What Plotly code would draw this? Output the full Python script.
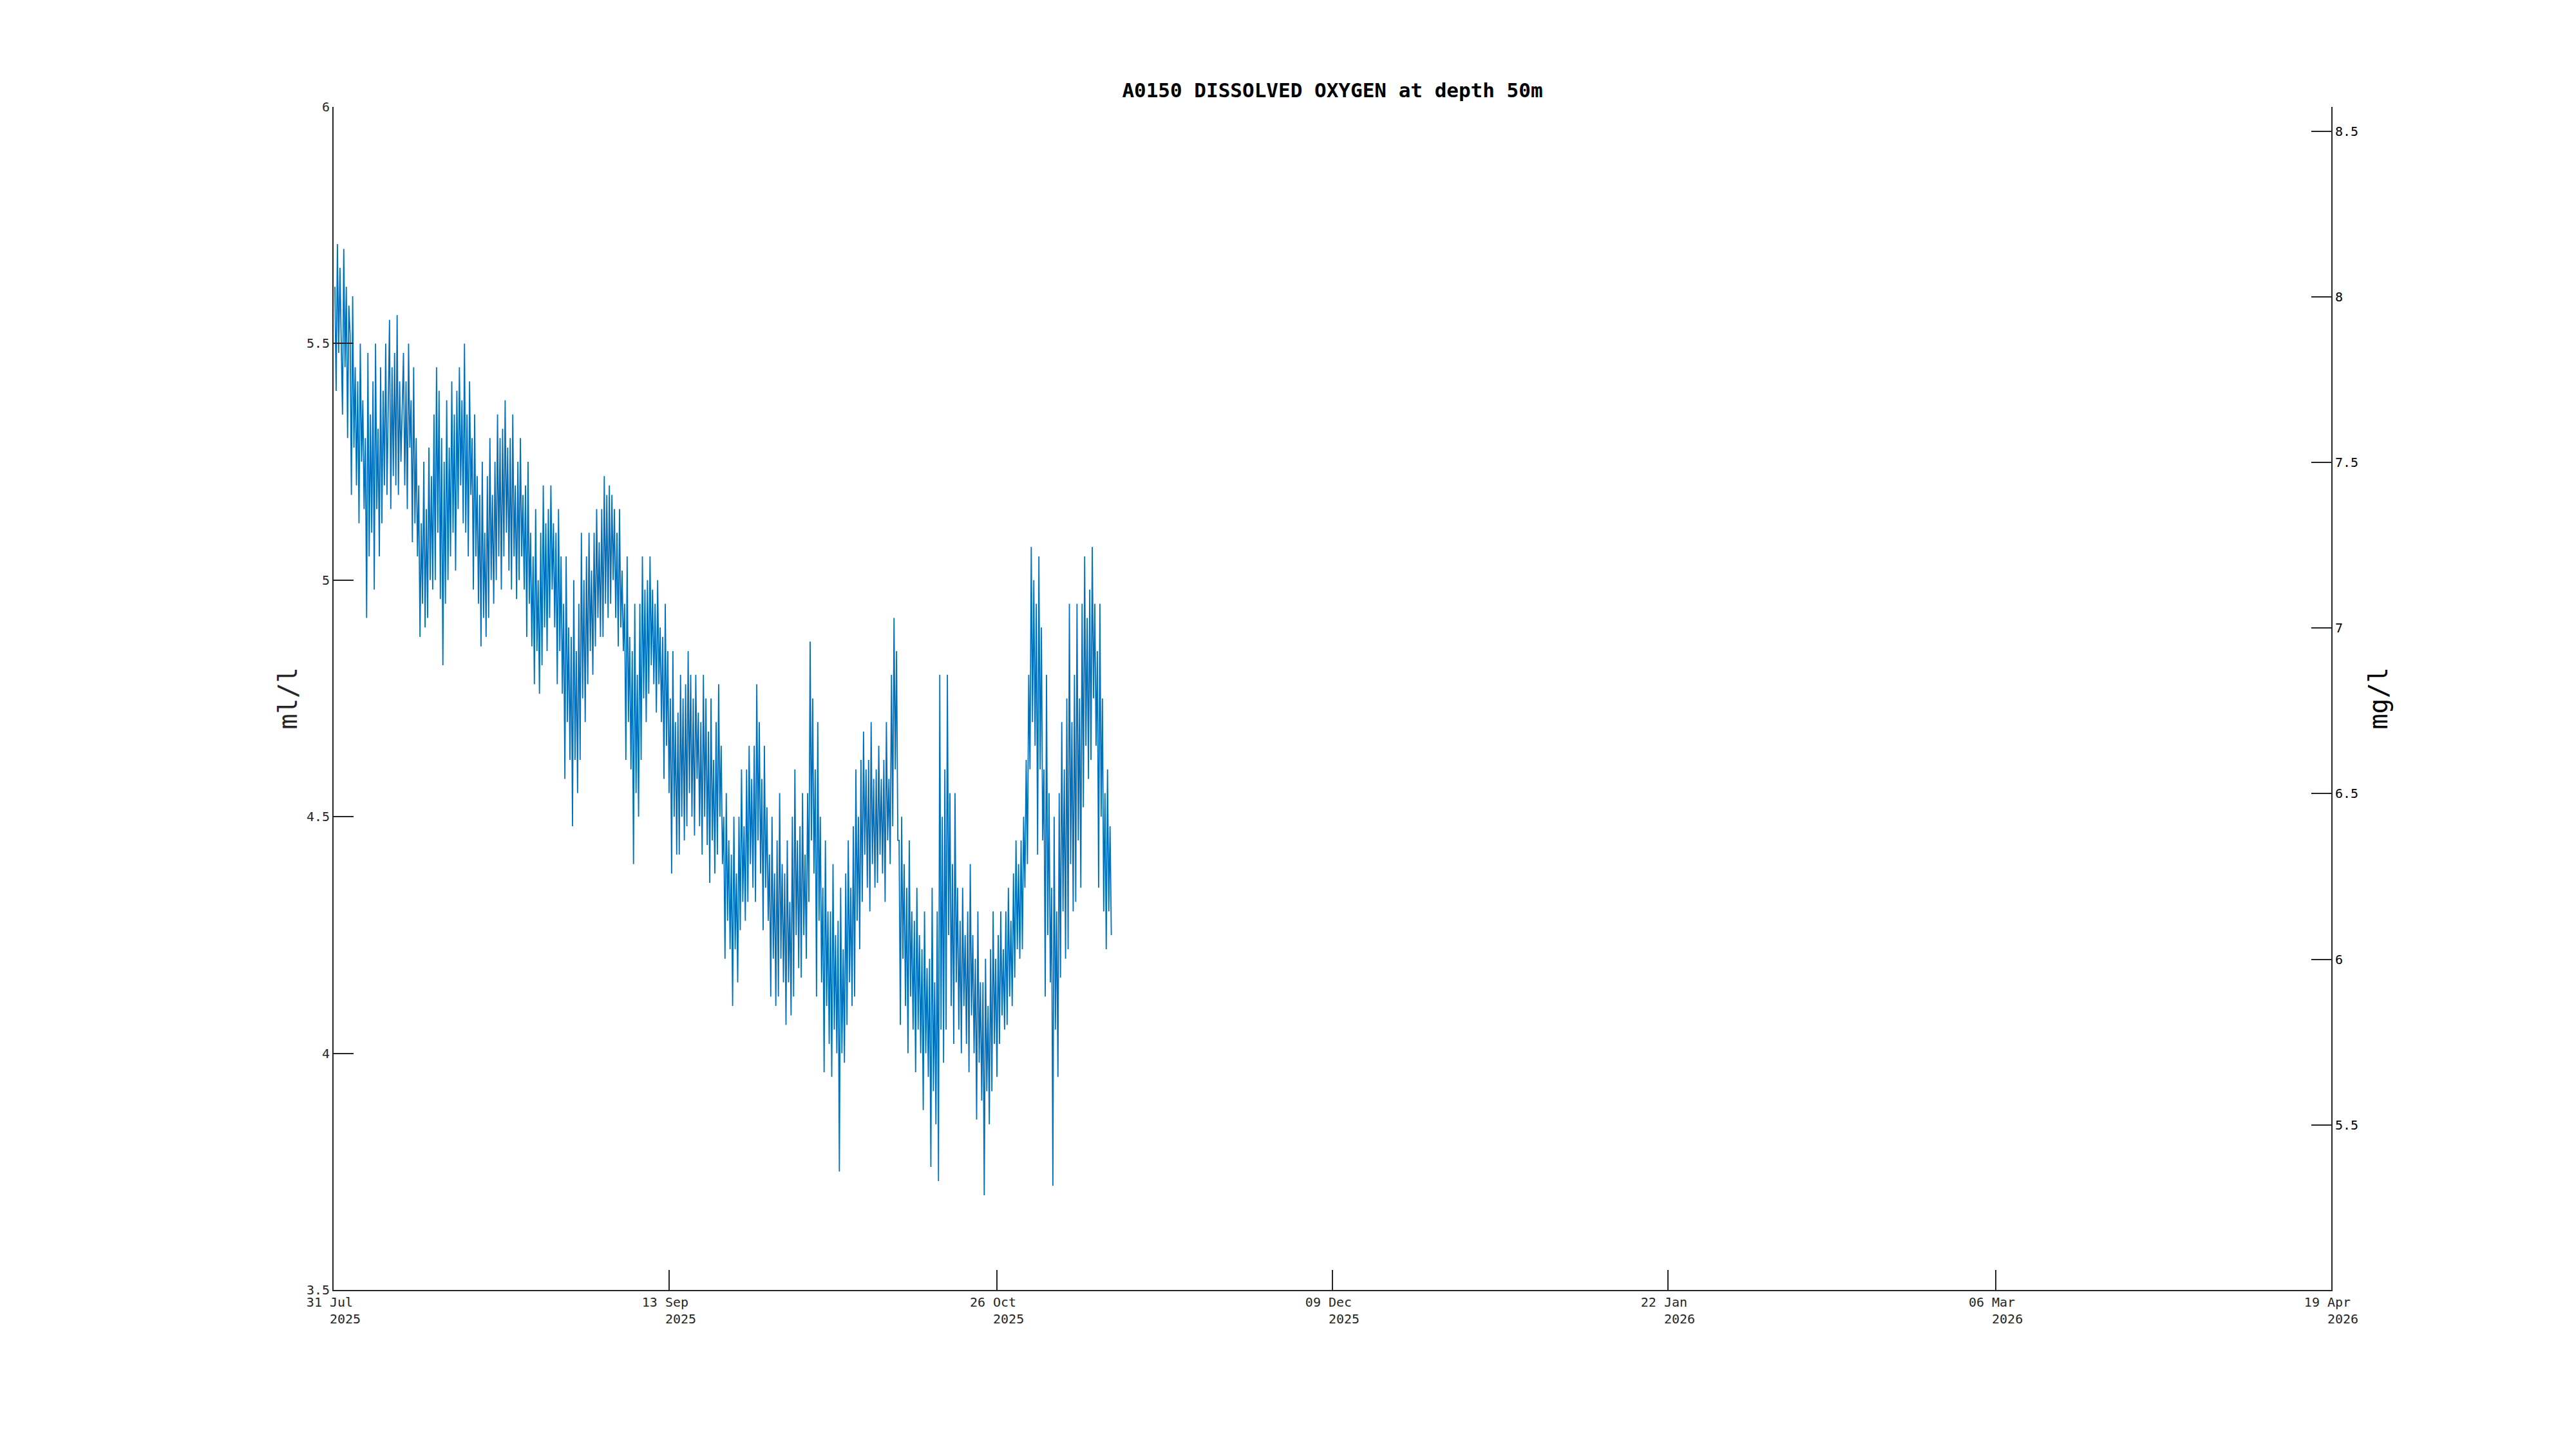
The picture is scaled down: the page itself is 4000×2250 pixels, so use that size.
import pandas as pd
import plotly.graph_objects as go

# ---- data (ml/l), 4-hourly samples ----
start_time = "2025-07-31 04:00"
step_hours = 4
oxygen_ml_l = [
    5.62, 5.40, 5.71, 5.48, 5.66, 5.52,
    5.35, 5.70, 5.45, 5.62, 5.30, 5.58,
    5.52, 5.18, 5.60, 5.28, 5.45, 5.20,
    5.42, 5.12, 5.50, 5.25, 5.38, 5.15,
    5.30, 4.92, 5.48, 5.05, 5.35, 5.10,
    5.42, 4.98, 5.50, 5.15, 5.32, 5.05,
    5.45, 5.12, 5.40, 5.20, 5.50, 5.18,
    5.38, 5.55, 5.15, 5.45, 5.22, 5.48,
    5.20, 5.56, 5.18, 5.42, 5.25, 5.35,
    5.48, 5.20, 5.42, 5.15, 5.50, 5.28,
    5.38, 5.08, 5.45, 5.12, 5.30, 5.05,
    5.20, 4.88, 5.12, 4.95, 5.25, 4.90,
    5.15, 4.92, 5.28, 5.00, 5.22, 4.98,
    5.35, 5.00, 5.45, 5.10, 5.40, 4.96,
    5.30, 4.82, 5.25, 4.95, 5.38, 5.00,
    5.28, 5.05, 5.42, 5.10, 5.35, 5.02,
    5.40, 5.15, 5.45, 5.20, 5.38, 5.12,
    5.50, 5.10, 5.35, 5.05, 5.42, 5.18,
    5.30, 4.98, 5.35, 5.05, 5.22, 4.95,
    5.18, 4.86, 5.25, 4.92, 5.10, 4.88,
    5.22, 4.92, 5.30, 5.00, 5.18, 4.95,
    5.25, 5.00, 5.35, 5.05, 5.30, 4.98,
    5.32, 5.05, 5.38, 5.10, 5.28, 5.02,
    5.30, 4.98, 5.35, 5.05, 5.20, 4.96,
    5.25, 5.00, 5.30, 5.05, 5.18, 4.98,
    5.20, 4.88, 5.25, 4.95, 5.10, 4.86,
    5.05, 4.78, 5.15, 4.85, 5.00, 4.76,
    5.10, 4.82, 5.20, 4.90, 5.12, 4.85,
    5.15, 4.92, 5.20, 4.98, 5.12, 4.90,
    5.10, 4.78, 5.15, 4.85, 5.05, 4.76,
    4.95, 4.58, 5.05, 4.70, 4.90, 4.62,
    4.88, 4.48, 5.00, 4.62, 4.85, 4.55,
    4.95, 4.62, 5.10, 4.75, 5.00, 4.70,
    5.05, 4.78, 5.10, 4.85, 5.02, 4.80,
    5.10, 4.86, 5.15, 4.92, 5.08, 4.88,
    5.15, 4.88, 5.22, 4.95, 5.18, 4.92,
    5.20, 4.95, 5.18, 5.00, 5.15, 4.92,
    5.10, 4.86, 5.15, 4.90, 5.02, 4.85,
    4.95, 4.62, 5.05, 4.70, 4.88, 4.60,
    4.85, 4.40, 4.95, 4.55, 4.80, 4.50,
    4.95, 4.62, 5.05, 4.75, 4.98, 4.70,
    5.00, 4.76, 5.05, 4.82, 4.98, 4.78,
    4.95, 4.72, 5.00, 4.78, 4.90, 4.70,
    4.88, 4.58, 4.95, 4.65, 4.85, 4.55,
    4.75, 4.38, 4.85, 4.50, 4.70, 4.42,
    4.72, 4.42, 4.80, 4.50, 4.75, 4.45,
    4.78, 4.48, 4.85, 4.55, 4.80, 4.50,
    4.75, 4.46, 4.80, 4.58, 4.72, 4.48,
    4.70, 4.42, 4.80, 4.50, 4.75, 4.44,
    4.68, 4.36, 4.75, 4.45, 4.62, 4.38,
    4.70, 4.42, 4.78, 4.50, 4.65, 4.40,
    4.50, 4.20, 4.55, 4.28, 4.45, 4.22,
    4.42, 4.10, 4.50, 4.22, 4.38, 4.15,
    4.50, 4.26, 4.60, 4.32, 4.48, 4.28,
    4.60, 4.32, 4.65, 4.40, 4.58, 4.35,
    4.65, 4.32, 4.78, 4.45, 4.70, 4.38,
    4.58, 4.26, 4.65, 4.35, 4.52, 4.28,
    4.42, 4.12, 4.50, 4.20, 4.38, 4.10,
    4.45, 4.12, 4.55, 4.20, 4.40, 4.15,
    4.38, 4.06, 4.45, 4.15, 4.32, 4.08,
    4.50, 4.12, 4.60, 4.25, 4.45, 4.18,
    4.48, 4.16, 4.55, 4.25, 4.42, 4.20,
    4.55, 4.32, 4.87, 4.45, 4.75, 4.38,
    4.60, 4.12, 4.70, 4.28, 4.50, 4.15,
    4.35, 3.96, 4.45, 4.10, 4.30, 4.02,
    4.30, 3.95, 4.40, 4.05, 4.25, 4.00,
    4.28, 3.75, 4.35, 4.00, 4.22, 3.98,
    4.38, 4.06, 4.45, 4.15, 4.35, 4.10,
    4.48, 4.12, 4.60, 4.28, 4.50, 4.22,
    4.62, 4.32, 4.68, 4.42, 4.60, 4.35,
    4.62, 4.30, 4.70, 4.40, 4.58, 4.35,
    4.60, 4.36, 4.65, 4.42, 4.58, 4.38,
    4.62, 4.32, 4.70, 4.45, 4.58, 4.40,
    4.80, 4.48, 4.92, 4.60, 4.85, 4.45,
    4.45, 4.06, 4.50, 4.20, 4.40, 4.10,
    4.35, 4.00, 4.45, 4.12, 4.30, 4.05,
    4.28, 3.96, 4.35, 4.05, 4.25, 4.00,
    4.22, 3.88, 4.30, 4.00, 4.18, 3.95,
    4.20, 3.76, 4.35, 3.92, 4.15, 3.85,
    4.30, 3.73, 4.80, 4.05, 4.50, 3.98,
    4.60, 4.05, 4.80, 4.25, 4.55, 4.10,
    4.40, 4.02, 4.55, 4.15, 4.35, 4.05,
    4.28, 4.00, 4.35, 4.10, 4.25, 4.02,
    4.30, 3.96, 4.40, 4.08, 4.25, 4.00,
    4.20, 3.86, 4.30, 3.98, 4.15, 3.90,
    4.15, 3.70, 4.20, 3.92, 4.10, 3.85,
    4.22, 3.92, 4.30, 4.02, 4.20, 3.95,
    4.25, 4.02, 4.30, 4.08, 4.22, 4.05,
    4.30, 4.06, 4.35, 4.12, 4.28, 4.10,
    4.38, 4.16, 4.45, 4.22, 4.40, 4.20,
    4.45, 4.22, 4.50, 4.35, 4.62, 4.40,
    4.80, 4.60, 5.07, 4.70, 5.00, 4.65,
    4.95, 4.42, 5.05, 4.60, 4.90, 4.45,
    4.60, 4.12, 4.80, 4.25, 4.55, 4.15,
    4.35, 3.72, 4.50, 4.05, 4.30, 3.95,
    4.55, 4.16, 4.70, 4.30, 4.60, 4.20,
    4.75, 4.22, 4.95, 4.40, 4.70, 4.30,
    4.80, 4.32, 4.95, 4.45, 4.75, 4.35,
    4.95, 4.52, 5.05, 4.65, 4.92, 4.58,
    4.98, 4.62, 5.07, 4.75, 4.95, 4.65,
    4.85, 4.35, 4.95, 4.50, 4.75, 4.30,
    4.55, 4.22, 4.60, 4.30, 4.48, 4.25,
]

ml_to_mg = 1.429
x_range = ["2025-07-31", "2026-04-19"]
x_tick_dates = ["2025-07-31", "2025-09-13", "2025-10-26", "2025-12-09",
                "2026-01-22", "2026-03-06", "2026-04-19"]
x_tick_day = ["31 Jul", "13 Sep", "26 Oct", "09 Dec", "22 Jan", "06 Mar", "19 Apr"]
x_tick_year = ["2025", "2025", "2025", "2025", "2026", "2026", "2026"]
y_left_ticks = [3.5, 4, 4.5, 5, 5.5, 6]
y_left_text = ["3.5", "4", "4.5", "5", "5.5", "6"]
y_right_ticks = [5.5, 6, 6.5, 7, 7.5, 8, 8.5]
y_right_text = ["5.5", "6", "6.5", "7", "7.5", "8", "8.5"]

times = pd.date_range(start=start_time, periods=len(oxygen_ml_l), freq=f"{step_hours}h")
oxygen_mg_l = [v * ml_to_mg for v in oxygen_ml_l]

NB = "\u00a0"
x_tick_text = [f"{d}{NB}<br>{NB*3}{y}" for d, y in zip(x_tick_day, x_tick_year)]

MONO = "DejaVu Sans Mono"
TXT = "#262626"
OFF = 8  # page body margin

fig = go.Figure()
fig.add_trace(go.Scatter(x=times, y=oxygen_ml_l, mode="lines",
                         line=dict(color="#0072BD", width=1.8),
                         showlegend=False, yaxis="y"))
fig.add_trace(go.Scatter(x=times, y=oxygen_mg_l, mode="lines",
                         line=dict(color="rgba(0,0,0,0)", width=0),
                         showlegend=False, hoverinfo="skip", yaxis="y2"))

fig.update_layout(
    width=4000, height=2250,
    paper_bgcolor="white", plot_bgcolor="white",
    margin=dict(l=518 - OFF, r=380 + OFF, t=166 - OFF, b=247 + OFF),
    font=dict(family=MONO, size=20, color=TXT),
    title=dict(text="<b>A0150 DISSOLVED OXYGEN at depth 50m</b>",
               font=dict(family=MONO, size=31, color="black"),
               x=0.5, xref="paper", xanchor="center",
               y=1 - (140 - OFF) / 2250, yref="container", yanchor="middle"),
    xaxis=dict(type="date", range=x_range, tickvals=x_tick_dates,
               ticktext=x_tick_text, ticks="inside", ticklen=31,
               tickcolor="#262626", tickwidth=1.5,
               showline=True, linecolor="#262626", linewidth=2,
               showgrid=False, zeroline=False,
               tickfont=dict(family=MONO, size=20, color=TXT)),
    yaxis=dict(range=[3.5, 6], tickvals=y_left_ticks, ticktext=y_left_text,
               ticks="inside", ticklen=31, tickcolor="#262626", tickwidth=1.5,
               showline=True, linecolor="#262626", linewidth=2,
               showgrid=False, zeroline=False,
               tickfont=dict(family=MONO, size=20, color=TXT)),
    yaxis2=dict(range=[3.5 * ml_to_mg, 6 * ml_to_mg], overlaying="y", side="right",
                tickvals=y_right_ticks, ticktext=y_right_text,
                ticks="inside", ticklen=31, tickcolor="#262626", tickwidth=1.5,
                showline=True, linecolor="#262626", linewidth=2,
                showgrid=False, zeroline=False,
                tickfont=dict(family=MONO, size=20, color="black")),
)

fig.add_annotation(text="ml/l", x=(446 - 518) / 3102, y=0.5, xref="paper", yref="paper",
                   textangle=-90, showarrow=False, xanchor="center", yanchor="middle",
                   font=dict(family=MONO, size=40, color=TXT))
fig.add_annotation(text="mg/l", x=(3692 - 518) / 3102, y=0.5, xref="paper", yref="paper",
                   textangle=-90, showarrow=False, xanchor="center", yanchor="middle",
                   font=dict(family=MONO, size=40, color="black"))

fig.write_html("out.html")
